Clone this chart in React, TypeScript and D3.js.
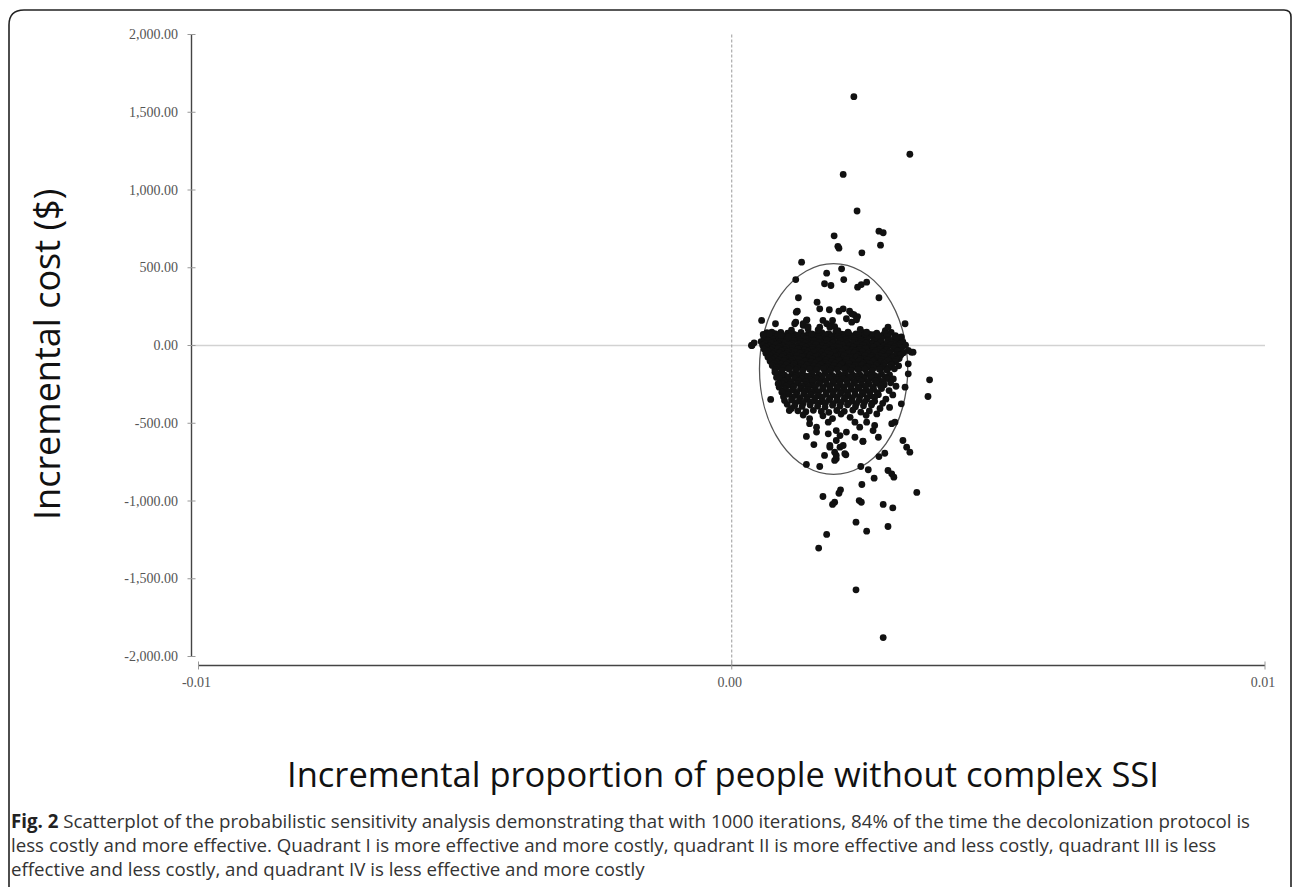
import React from "react";
import * as d3 from "d3";

// ---------- data ----------
const yTicks = [2000, 1500, 1000, 500, 0, -500, -1000, -1500, -2000];
const xTicks = [-0.01, 0, 0.01];

const ellipseCenter: [number, number] = [0.00191, -151];
const ellipseRadii: [number, number] = [0.00139, 678];

const outliers: [number, number][] = [
  [0.00229, 1600], [0.00334, 1230], [0.00209, 1100], [0.00235, 865], [0.00192, 705],
  [0.00276, 735], [0.00284, 725], [0.00279, 645], [0.00199, 638], [0.00201, 626],
  [0.00244, 596], [0.00131, 536], [0.0012, 424], [0.00178, 465], [0.00206, 493],
  [0.0021, 424], [0.00174, 397], [0.00186, 386], [0.00236, 375], [0.00243, 392],
  [0.00253, 407], [0.00276, 307], [0.00125, 307], [0.0016, 278], [0.00123, 221],
  [0.00165, 236], [0.00183, 230], [0.00201, 221], [0.00209, 236], [0.00221, 221],
  [0.00229, 199], [0.00236, 186], [0.00056, 161], [0.00082, 140], [0.0012, 150],
  [0.00141, 165], [0.00134, 140], [0.00143, 122], [0.00171, 161], [0.00178, 140],
  [0.00184, 118], [0.00193, 122], [0.00189, 161], [0.00215, 172], [0.00225, 150],
  [0.00234, 165], [0.00293, 118], [0.00325, 140], [0.00059, 71], [0.00071, 75],
  [0.00253, 86], [0.00038, 0], [0.00042, 17], [0.0034, -43], [0.00331, -32],
  [0.00371, -221], [0.00368, -328], [0.00331, -118], [0.00073, -347], [0.00108, -418],
  [0.0014, -585], [0.00154, -637], [0.00174, -707], [0.0014, -765], [0.00165, -778],
  [0.00193, -739], [0.00196, -707], [0.00184, -654], [0.00212, -696], [0.00246, -615],
  [0.00242, -778], [0.00256, -799], [0.00276, -714], [0.00287, -693], [0.00321, -611],
  [0.00328, -654], [0.00334, -686], [0.00293, -804], [0.003, -825], [0.00304, -847],
  [0.00267, -853], [0.00244, -894], [0.00204, -928], [0.00201, -950], [0.00171, -971],
  [0.00193, -1008], [0.00189, -1022], [0.00239, -997], [0.00243, -1008], [0.00284, -1022],
  [0.00302, -1044], [0.00347, -945], [0.00233, -1136], [0.00293, -1164], [0.00253, -1194],
  [0.00178, -1215], [0.00163, -1303], [0.00233, -1571], [0.00284, -1878],
];

const upperScatter: [number, number][] = [
  [0.00121, 214], [0.0014, 161], [0.00093, 64], [0.00106, 53], [0.00199, 96],
  [0.00218, 86], [0.0025, 75], [0.00274, 64], [0.00309, 53], [0.0015, 75],
  [0.00165, 118], [0.00187, 129], [0.00118, 140], [0.00134, 129], [0.00143, 107],
  [0.00065, 75], [0.00075, 86], [0.00225, 204], [0.00234, 182], [0.00037, 0],
  [0.00337, -43], [0.00112, 98], [0.00162, 101], [0.00241, 104], [0.00288, 96],
];

const cloudCore: [number, number][] = [
  [0.00066, 82], [0.00081, 76], [0.00092, 85], [0.00105, 79], [0.00117, 72], [0.0013, 84], [0.00144, 78], [0.00157, 70], [0.00169, 83], [0.00182, 77], [0.00195, 86], [0.00206, 73], [0.00219, 80], [0.00233, 75], [0.00247, 83], [0.00259, 71], [0.00272, 79], [0.00286, 74], [0.00299, 84],
  [0.00073, 64], [0.00087, 69], [0.00099, 62], [0.00111, 70], [0.00124, 65], [0.00137, 61], [0.0015, 68], [0.00163, 63], [0.00176, 70], [0.00188, 60], [0.00201, 66], [0.00213, 71], [0.00226, 62], [0.0024, 68], [0.00253, 64], [0.00266, 69], [0.00279, 61], [0.00293, 67], [0.00307, 63],
  [0.0006, 55], [0.00072, 49], [0.00085, 58], [0.00097, 52], [0.0011, 60], [0.00123, 47], [0.00135, 56], [0.00148, 51], [0.00161, 59], [0.00173, 46], [0.00186, 54], [0.00199, 61], [0.00211, 50], [0.00224, 57], [0.00238, 48], [0.0025, 55], [0.00264, 60], [0.00277, 50], [0.00291, 57], [0.00305, 49], [0.00318, 55],
  [0.00063, 38], [0.00076, 43], [0.00088, 36], [0.00101, 41], [0.00114, 45], [0.00126, 37], [0.00139, 42], [0.00152, 35], [0.00164, 44], [0.00177, 39], [0.0019, 34], [0.00202, 43], [0.00215, 38], [0.00228, 45], [0.00241, 36], [0.00254, 41], [0.00267, 37], [0.0028, 44], [0.00293, 39], [0.00306, 42], [0.00314, 36],
  [0.00055, 25], [0.00068, 31], [0.00079, 22], [0.00091, 30], [0.00104, 24], [0.00116, 33], [0.00129, 27], [0.00141, 21], [0.00154, 30], [0.00166, 25], [0.00179, 34], [0.00192, 23], [0.00204, 29], [0.00217, 21], [0.0023, 32], [0.00243, 26], [0.00256, 20], [0.00268, 30], [0.00281, 24], [0.00294, 33], [0.00308, 27], [0.00321, 22],
  [0.00062, 12], [0.00075, 16], [0.00088, 10], [0.001, 17], [0.00113, 13], [0.00126, 9], [0.00138, 15], [0.00151, 11], [0.00163, 18], [0.00176, 12], [0.00189, 16], [0.00201, 10], [0.00214, 14], [0.00227, 18], [0.0024, 11], [0.00252, 15], [0.00265, 9], [0.00278, 16], [0.00291, 12], [0.00304, 17], [0.00317, 10],
  [0.00058, 2], [0.0007, -4], [0.00083, 5], [0.00095, -2], [0.00108, 6], [0.0012, -5], [0.00133, 1], [0.00145, -3], [0.00158, 7], [0.0017, -1], [0.00183, 3], [0.00196, -6], [0.00208, 4], [0.00221, -2], [0.00234, 6], [0.00247, 0], [0.0026, -5], [0.00272, 4], [0.00285, -3], [0.00298, 5], [0.00312, -1], [0.00326, 3],
  [0.00064, -11], [0.00077, -16], [0.00089, -9], [0.00102, -15], [0.00114, -12], [0.00127, -18], [0.00139, -10], [0.00152, -14], [0.00164, -17], [0.00177, -9], [0.0019, -15], [0.00202, -12], [0.00215, -18], [0.00228, -10], [0.00241, -14], [0.00253, -16], [0.00266, -11], [0.00279, -17], [0.00292, -13], [0.00305, -9], [0.00319, -15],
  [0.00061, -24], [0.00074, -30], [0.00087, -21], [0.00099, -28], [0.00112, -33], [0.00124, -22], [0.00137, -29], [0.0015, -25], [0.00162, -31], [0.00175, -20], [0.00188, -27], [0.002, -34], [0.00213, -23], [0.00226, -30], [0.00239, -26], [0.00251, -21], [0.00264, -32], [0.00277, -25], [0.0029, -29], [0.00304, -22], [0.00317, -31],
  [0.00067, -37], [0.0008, -42], [0.00093, -35], [0.00105, -41], [0.00118, -38], [0.00131, -44], [0.00143, -36], [0.00156, -40], [0.00169, -43], [0.00181, -35], [0.00194, -41], [0.00207, -38], [0.0022, -44], [0.00232, -36], [0.00245, -40], [0.00258, -42], [0.00271, -37], [0.00284, -43], [0.00297, -39], [0.00311, -35],
  [0.00064, -50], [0.00077, -56], [0.0009, -47], [0.00102, -54], [0.00115, -60], [0.00128, -49], [0.00141, -55], [0.00153, -45], [0.00166, -58], [0.00179, -51], [0.00191, -46], [0.00204, -57], [0.00217, -52], [0.0023, -48], [0.00243, -59], [0.00255, -53], [0.00268, -46], [0.00281, -55], [0.00295, -50], [0.00309, -57], [0.00322, -47],
  [0.00071, -63], [0.00084, -68], [0.00097, -61], [0.00109, -67], [0.00122, -64], [0.00135, -70], [0.00147, -62], [0.0016, -66], [0.00173, -69], [0.00186, -61], [0.00198, -67], [0.00211, -64], [0.00224, -70], [0.00237, -62], [0.0025, -66], [0.00263, -68], [0.00276, -63], [0.0029, -69], [0.00304, -65], [0.00317, -61],
  [0.00068, -76], [0.00081, -82], [0.00094, -73], [0.00106, -80], [0.00119, -85], [0.00132, -74], [0.00145, -79], [0.00157, -71], [0.0017, -84], [0.00183, -77], [0.00195, -72], [0.00208, -86], [0.00221, -78], [0.00234, -73], [0.00247, -83], [0.0026, -76], [0.00273, -81], [0.00287, -72], [0.00301, -79], [0.00314, -84],
  [0.00075, -89], [0.00088, -94], [0.00101, -87], [0.00113, -93], [0.00126, -90], [0.00139, -96], [0.00151, -88], [0.00164, -92], [0.00177, -95], [0.0019, -87], [0.00202, -93], [0.00215, -90], [0.00228, -96], [0.00241, -88], [0.00254, -92], [0.00267, -94], [0.00281, -89], [0.00295, -95], [0.00309, -91],
  [0.00072, -101], [0.00085, -107], [0.00098, -98], [0.00111, -106], [0.00124, -111], [0.00137, -100], [0.00149, -105], [0.00162, -97], [0.00175, -109], [0.00188, -102], [0.002, -96], [0.00213, -108], [0.00226, -103], [0.00239, -99], [0.00252, -110], [0.00265, -101], [0.00279, -106], [0.00293, -98], [0.00307, -104],
  [0.00079, -115], [0.00092, -120], [0.00105, -113], [0.00117, -119], [0.0013, -116], [0.00143, -122], [0.00156, -114], [0.00168, -118], [0.00181, -121], [0.00194, -113], [0.00207, -119], [0.0022, -116], [0.00233, -122], [0.00246, -114], [0.00259, -118], [0.00272, -120], [0.00286, -115], [0.003, -121],
  [0.00076, -128], [0.00089, -134], [0.00102, -125], [0.00115, -131], [0.00128, -137], [0.00141, -126], [0.00154, -132], [0.00166, -124], [0.00179, -136], [0.00192, -129], [0.00205, -123], [0.00218, -135], [0.00231, -130], [0.00244, -126], [0.00257, -138], [0.00271, -128], [0.00285, -133], [0.00299, -125], [0.00313, -131],
  [0.00084, -141], [0.00097, -146], [0.0011, -139], [0.00123, -145], [0.00136, -142], [0.00149, -148], [0.00162, -140], [0.00175, -144], [0.00188, -147], [0.00201, -139], [0.00214, -145], [0.00227, -142], [0.0024, -148], [0.00253, -140], [0.00266, -144], [0.0028, -146], [0.00295, -141],
  [0.00081, -154], [0.00094, -160], [0.00107, -151], [0.0012, -158], [0.00133, -163], [0.00146, -152], [0.00159, -157], [0.00172, -149], [0.00185, -161], [0.00198, -155], [0.00211, -150], [0.00224, -162], [0.00237, -156], [0.0025, -152], [0.00263, -164], [0.00277, -153], [0.00291, -159], [0.00305, -150],
];

const cloudLower: [number, number][] = [
  [0.00086, -183], [0.00099, -190], [0.00113, -181], [0.00126, -188], [0.00136, -194], [0.0015, -182], [0.00163, -187], [0.00175, -179], [0.00188, -192], [0.00201, -185], [0.00213, -180], [0.00227, -191], [0.0024, -186], [0.00253, -181], [0.00267, -193], [0.00281, -184], [0.00296, -189],
  [0.00093, -198], [0.00106, -203], [0.0012, -196], [0.00133, -202], [0.00143, -199], [0.00156, -205], [0.00169, -197], [0.00182, -201], [0.00195, -204], [0.00207, -196], [0.0022, -202], [0.00233, -199], [0.00246, -205], [0.0026, -197], [0.00274, -201], [0.00288, -204],
  [0.0009, -213], [0.00105, -219], [0.00118, -210], [0.00131, -217], [0.00146, -222], [0.00158, -211], [0.0017, -216], [0.00184, -208], [0.00197, -220], [0.00209, -214], [0.00222, -209], [0.00236, -221], [0.00249, -215], [0.00262, -210], [0.00276, -223], [0.00291, -213],
  [0.00098, -229], [0.00112, -234], [0.00125, -227], [0.00139, -233], [0.00152, -230], [0.00165, -236], [0.00177, -228], [0.00191, -232], [0.00203, -235], [0.00216, -227], [0.00229, -233], [0.00243, -230], [0.00256, -236], [0.00269, -228], [0.00283, -232],
  [0.00095, -246], [0.00109, -252], [0.00123, -243], [0.00138, -250], [0.0015, -256], [0.00164, -244], [0.00178, -249], [0.0019, -241], [0.00204, -254], [0.00217, -247], [0.0023, -242], [0.00244, -255], [0.00258, -248], [0.00271, -243], [0.00286, -252],
  [0.00102, -262], [0.00116, -267], [0.00131, -260], [0.00144, -266], [0.00157, -263], [0.00171, -269], [0.00184, -261], [0.00197, -265], [0.00211, -268], [0.00224, -260], [0.00237, -266], [0.00251, -263], [0.00265, -269], [0.00279, -261],
  [0.001, -280], [0.00115, -286], [0.00129, -277], [0.00143, -284], [0.00156, -290], [0.00171, -278], [0.00184, -283], [0.00198, -275], [0.0021, -288], [0.00224, -281], [0.00238, -276], [0.00252, -289], [0.00266, -282], [0.00281, -277],
  [0.00108, -296], [0.00122, -301], [0.00136, -294], [0.0015, -300], [0.00163, -297], [0.00177, -303], [0.00191, -295], [0.00204, -299], [0.00217, -302], [0.00231, -294], [0.00245, -300], [0.00259, -297], [0.00273, -303],
  [0.00105, -314], [0.00121, -320], [0.00135, -311], [0.00148, -318], [0.00162, -324], [0.00177, -312], [0.0019, -317], [0.00204, -309], [0.00218, -322], [0.00231, -315], [0.00246, -310], [0.0026, -323], [0.00275, -316],
  [0.00114, -331], [0.00128, -336], [0.00142, -329], [0.00156, -335], [0.0017, -332], [0.00184, -338], [0.00198, -330], [0.00212, -334], [0.00226, -337], [0.0024, -329], [0.00254, -335], [0.00268, -332],
  [0.00112, -350], [0.00127, -356], [0.0014, -347], [0.00155, -354], [0.00169, -360], [0.00183, -348], [0.00197, -353], [0.00211, -345], [0.00225, -358], [0.00239, -351], [0.00253, -346], [0.00268, -359],
  [0.0012, -367], [0.00134, -372], [0.00148, -365], [0.00162, -371], [0.00176, -368], [0.0019, -374], [0.00205, -366], [0.00219, -370], [0.00234, -373], [0.00249, -365], [0.00263, -371],
  [0.00118, -386], [0.00132, -392], [0.00147, -383], [0.00161, -390], [0.00175, -396], [0.00189, -384], [0.00203, -389], [0.00217, -381], [0.00232, -394], [0.00247, -387], [0.00262, -382],
  [0.00124, -420], [0.00139, -426], [0.00153, -417], [0.00168, -424], [0.00182, -430], [0.00197, -418], [0.00211, -423], [0.00227, -415], [0.00242, -428], [0.00258, -421],
  [0.00303, -215], [0.00298, -240], [0.00308, -262], [0.00295, -290], [0.00302, -318],
  [0.00289, -345], [0.00283, -372], [0.00296, -398], [0.00278, -405], [0.00272, -440],
  [0.00084, -205], [0.00089, -268], [0.00094, -300], [0.00097, -330], [0.00104, -378], [0.00112, -405],
  [0.00134, -447], [0.00171, -452], [0.00205, -441], [0.00222, -462], [0.00252, -449],
  [0.00189, -470], [0.00146, -470],
  [0.00275, -590], [0.003, -503], [0.00318, -375], [0.00325, -268], [0.00331, -182],
  [0.00099, -354], [0.00087, -246], [0.00081, -172],
  [0.00159, -557], [0.00181, -568], [0.00196, -547], [0.00203, -579], [0.00215, -557],
  [0.00196, -611], [0.00203, -654], [0.00184, -643], [0.00209, -643], [0.00193, -686],
  [0.00196, -729], [0.00214, -703], [0.00246, -617], [0.00231, -590], [0.0024, -525],
  [0.00265, -547], [0.00268, -514], [0.00253, -493], [0.00231, -493], [0.00306, -493],
  [0.00181, -493], [0.00146, -503], [0.00159, -525],
];

const yTitle = "Incremental cost ($)";
const xTitle = "Incremental proportion of people without complex SSI";
const captionBold = "Fig. 2";
const captionLines = [
  " Scatterplot of the probabilistic sensitivity analysis demonstrating that with 1000 iterations, 84% of the time the decolonization protocol is",
  "less costly and more effective. Quadrant I is more effective and more costly, quadrant II is more effective and less costly, quadrant III is less",
  "effective and less costly, and quadrant IV is less effective and more costly",
];

// ---------- chart ----------
const W = 1293;
const H = 887;

const locale = d3.formatLocale({
  decimal: ".",
  thousands: ",",
  grouping: [3],
  currency: ["$", ""],
  minus: "-",
});
const fmtY = locale.format(",.2f");
const fmtX = locale.format(".2f");

export default function App() {
  const x = d3.scaleLinear().domain([-0.01, 0.01]).range([198.5, 1265]);
  const y = d3.scaleLinear().domain([-2000, 2000]).range([656.5, 34.5]);
  const axisX = 191.5;
  const axisY = 665.5;
  const allPoints = [...cloudCore, ...cloudLower, ...upperScatter, ...outliers];

  const serif = "'Liberation Serif', 'Times New Roman', serif";
  const sans = "'Open Sans', 'Noto Sans', sans-serif";
  const capSize = 18.7;

  return (
    <svg
      width={W}
      height={H}
      style={{ position: "absolute", left: 0, top: 0, background: "#fff" }}
    >
      <rect x={0} y={0} width={W} height={H} fill="#fff" />
      {/* frame */}
      <path
        d={`M9,${H + 5} L9,25 Q9,10 24,10 L1284,10 Q1291,10 1291,17 L1291,${H + 5}`}
        fill="none"
        stroke="#222"
        strokeWidth={1.6}
      />

      {/* zero reference lines */}
      <line x1={axisX} x2={x(0.01)} y1={y(0)} y2={y(0)} stroke="#d2d2d2" strokeWidth={1.5} />
      <line
        x1={x(0)}
        x2={x(0)}
        y1={y(2000)}
        y2={axisY}
        stroke="#9a9a9a"
        strokeWidth={1}
        strokeDasharray="3,2"
      />

      {/* y axis */}
      <line x1={axisX} x2={axisX} y1={y(2000)} y2={y(-2000)} stroke="#444" strokeWidth={1.4} />
      {yTicks.map((t) => (
        <g key={"yt" + t}>
          <line x1={axisX - 4} x2={axisX + 4} y1={y(t)} y2={y(t)} stroke="#999" strokeWidth={1} />
          <text
            x={178}
            y={y(t) + 4.5}
            textAnchor="end"
            fontFamily={serif}
            fontSize={14}
            fill="#555"
          >
            {fmtY(t)}
          </text>
        </g>
      ))}

      {/* x axis */}
      <line x1={x(-0.01)} x2={x(0.01)} y1={axisY} y2={axisY} stroke="#444" strokeWidth={1.4} />
      {xTicks.map((t) => (
        <g key={"xt" + t}>
          <line x1={x(t)} x2={x(t)} y1={axisY - 4} y2={axisY + 4} stroke="#999" strokeWidth={1} />
          <text
            x={x(t) - 2}
            y={687}
            textAnchor="middle"
            fontFamily={serif}
            fontSize={14}
            fill="#555"
          >
            {fmtX(t)}
          </text>
        </g>
      ))}

      {/* confidence ellipse */}
      <ellipse
        cx={x(ellipseCenter[0])}
        cy={y(ellipseCenter[1])}
        rx={x(ellipseCenter[0] + ellipseRadii[0]) - x(ellipseCenter[0])}
        ry={y(ellipseCenter[1] - ellipseRadii[1]) - y(ellipseCenter[1])}
        fill="none"
        stroke="#555"
        strokeWidth={1.3}
      />

      {/* points */}
      <g fill="#111">
        {allPoints.map((p, i) => (
          <circle key={i} cx={x(p[0])} cy={y(p[1])} r={3.4} />
        ))}
      </g>

      {/* titles */}
      <text
        transform={`translate(60,520) rotate(-90)`}
        fontFamily={sans}
        fontSize={36}
        fill="#111"
      >
        {yTitle}
      </text>
      <text x={287} y={787} fontFamily={sans} fontSize={34.5} fill="#111">
        {xTitle}
      </text>

      {/* caption */}
      <text x={11} y={828} fontFamily={sans} fontSize={capSize} fill="#333">
        <tspan fontWeight="bold" fill="#222">
          {captionBold}
        </tspan>
        <tspan>{captionLines[0]}</tspan>
      </text>
      <text x={11} y={852} fontFamily={sans} fontSize={capSize} fill="#333">
        {captionLines[1]}
      </text>
      <text x={11} y={876} fontFamily={sans} fontSize={capSize} fill="#333">
        {captionLines[2]}
      </text>
    </svg>
  );
}
